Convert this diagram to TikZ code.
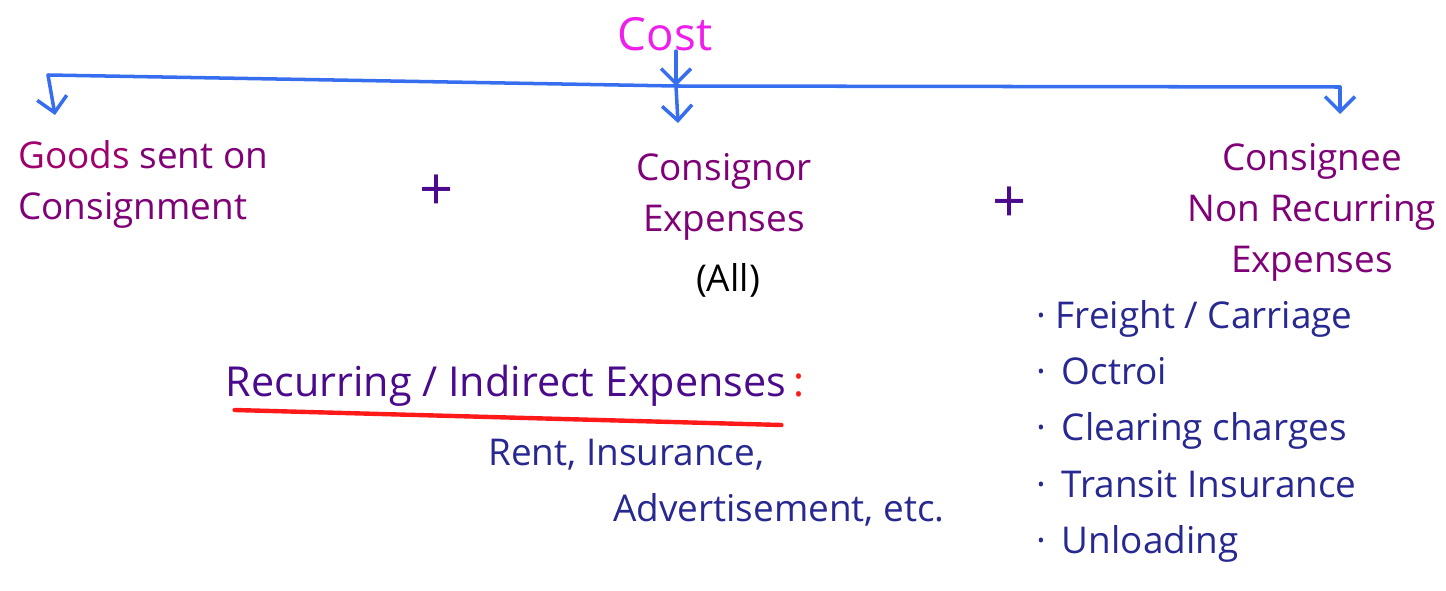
\documentclass[tikz,border=0pt]{standalone}
\usepackage{fontspec}
\setmainfont{Open Sans}
\usepackage{tikz}
\usetikzlibrary{arrows.meta,positioning,calc}

\definecolor{costpink}{RGB}{240,30,235}
\definecolor{headpurple}{RGB}{128,0,120}
\definecolor{goodsred}{RGB}{160,0,110}
\definecolor{linkblue}{RGB}{55,110,240}
\definecolor{inkblue}{RGB}{40,40,145}
\definecolor{inkindigo}{RGB}{75,10,140}
\definecolor{underred}{RGB}{255,25,25}

\begin{document}
\begin{tikzpicture}[
        x=0.2mm, y=-0.2mm,
        font=\fontsize{21}{29}\selectfont,
        >={Straight Barb[length=3mm,width=6mm]},
        head/.style={text=headpurple, align=center, inner sep=0pt},
        note/.style={text=inkblue, inner sep=0pt},
        plus/.style={text=inkindigo, inner sep=0pt, font=\fontsize{34}{34}\selectfont},
        link/.style={draw=linkblue, line width=2pt, line cap=round},
        linkarrow/.style={link, ->}
    ]
    \useasboundingbox (0,0) rectangle (1446,591);

    % Top
    \node[text=costpink, inner sep=0pt, font=\fontsize{26}{30}\selectfont] (cost) at (665,34) {Cost};
    \coordinate (barL) at (48,75);
    \coordinate (barM) at (676,86);
    \coordinate (barR) at (1340,87);
    \coordinate (goodstip) at (55,115);
    \coordinate (nortip) at (678,123);
    \coordinate (neetip) at (1340,114);

    % Three parts
    \node[head, align=left, anchor=north west] (goods) at (18,140) {{\color{goodsred}Goods} sent on\\Consignment};
    \node[plus] (plus1) at (437,193) {+};
    \node[head] (consignor) at (724,197) {Consignor\\Expenses};
    \node[inner sep=0pt] (all) at (728,280) {(All)};
    \node[plus] (plus2) at (1010,205) {+};
    \node[head] (consignee) at (1312,212) {Consignee\\Non Recurring\\Expenses};

    % Connections
    \draw[linkarrow] (cost.south -| barM) -- (barM);
    \draw[link] (barL) -- (barM) -- (barR);
    \draw[linkarrow] (barL) -- (goodstip);
    \draw[linkarrow] (barM) -- (nortip);
    \draw[linkarrow] (barR) -- (neetip);

    % Recurring expenses
    \node[text=inkindigo, inner sep=0pt, font=\fontsize{23.5}{29}\selectfont] (recur) at (515,386) {Recurring / Indirect Expenses{\color{underred}\,:}};
    \draw[draw=underred, line width=2.5pt, line cap=round] ($(recur.west)+(9,24)$) -- ($(recur.east)+(-23,39)$);
    \node[note, anchor=west] (rent) at (488,455) {Rent, Insurance,};
    \node[note, anchor=west] (advert) at (613,510) {Advertisement, etc.};

    % Non recurring list
    \node[note, align=left, anchor=north west, font=\fontsize{21}{32}\selectfont] (list) at (1036,300)
        {· Freight / Carriage\\·\, Octroi\\·\, Clearing charges\\·\, Transit Insurance\\·\, Unloading};

\end{tikzpicture}
\end{document}
